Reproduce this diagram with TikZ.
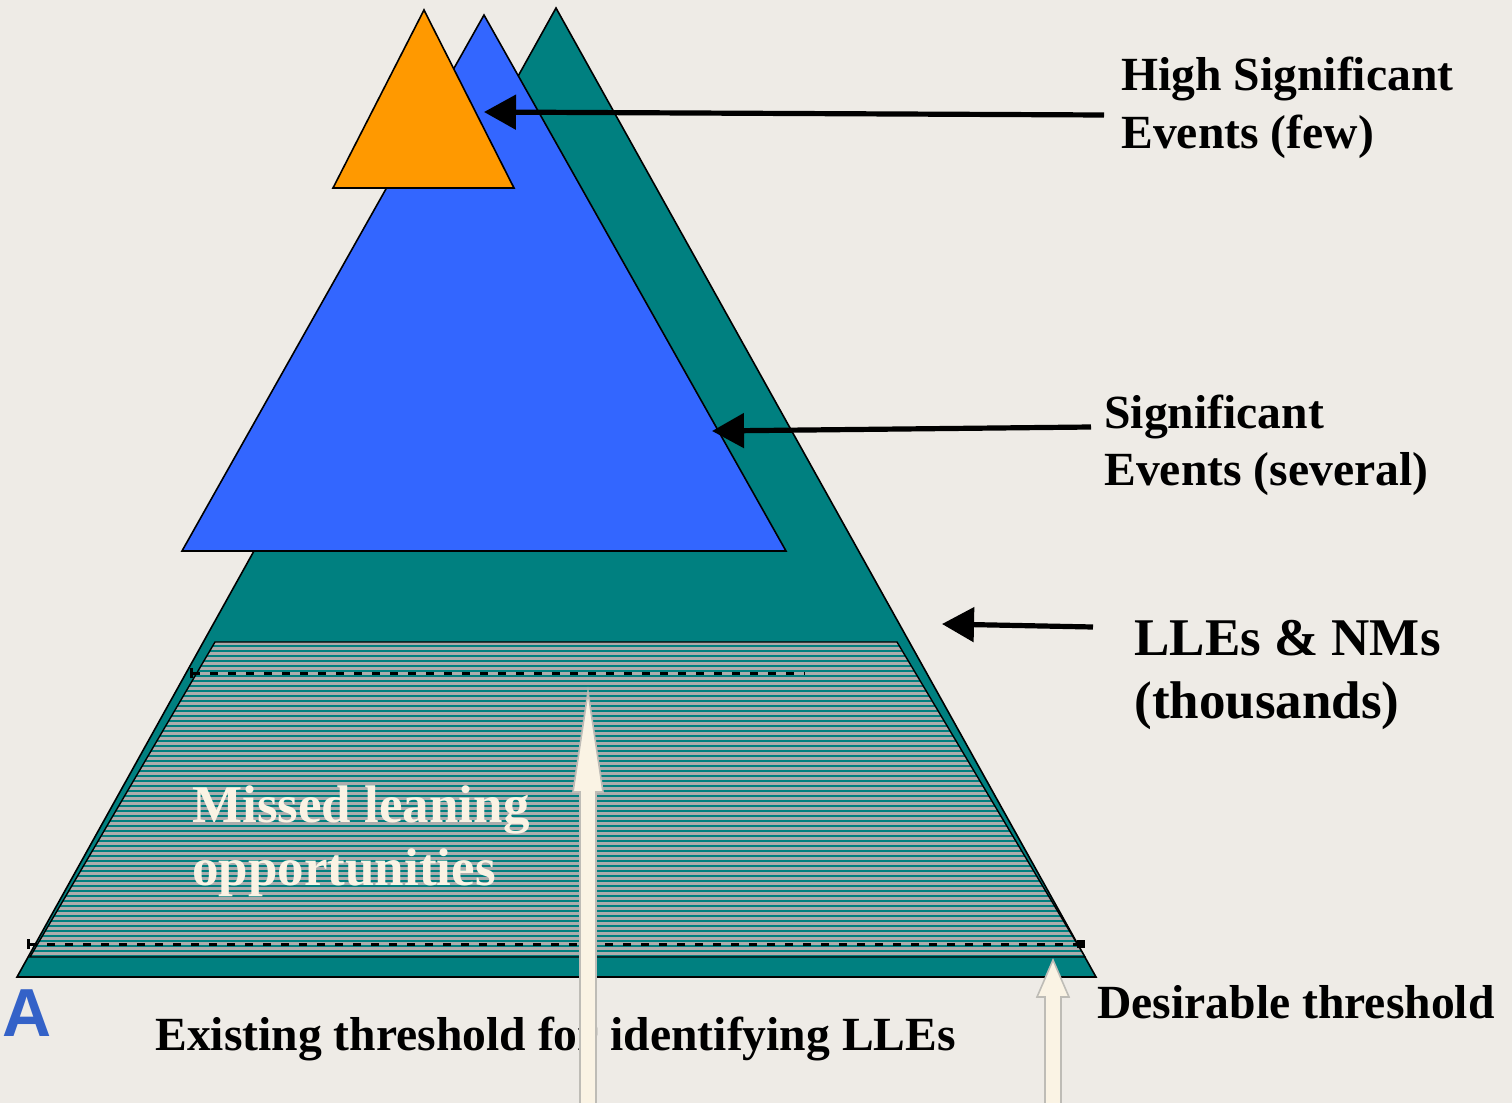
\documentclass[tikz,border=0pt]{standalone}
\usepackage{fontspec}
\setmainfont{Liberation Serif}
\newfontfamily\logofont{Liberation Sans}
\usetikzlibrary{arrows.meta}
\definecolor{paper}{RGB}{238,235,230}
\definecolor{pyrteal}{RGB}{0,128,128}
\definecolor{pyrblue}{RGB}{51,102,255}
\definecolor{pyrorange}{RGB}{255,153,0}
\definecolor{hatchgray}{RGB}{172,172,172}
\definecolor{cream}{RGB}{250,243,228}
\definecolor{creamedge}{RGB}{190,188,182}
\definecolor{logoblue}{RGB}{52,98,200}

\begin{document}
\begin{tikzpicture}[
  x=0.5pt, y=-0.5pt,
  tri/.style={draw=black, line width=0.8pt, line join=miter},
  pointer/.style={-{Triangle[length=16pt,width=17pt]}, line width=2.6pt},
  upblock/.style={fill=cream, draw=creamedge, line width=0.8pt},
  thresh/.style={dash pattern=on 4pt off 5pt, line width=1.5pt},
  evtext/.style={font=\fontsize{23.8}{28.5}\selectfont\bfseries, align=left, anchor=base west, inner sep=0pt},
  bigtext/.style={font=\fontsize{26.5}{31.5}\selectfont\bfseries, align=left, anchor=base west, inner sep=0pt}
]
  \useasboundingbox (0,0) rectangle (1512,1103);
  \fill[paper] (0,0) rectangle (1512,1103);

  % pyramid: teal base, blue middle, orange top
  \filldraw[tri, fill=pyrteal] (556,8) -- (1096,977) -- (17,977) -- cycle;
  \filldraw[tri, fill=pyrblue] (484,15) -- (786,551) -- (182,551) -- cycle;
  \filldraw[tri, fill=pyrorange] (424,10) -- (514,188) -- (333,188) -- cycle;

  % striped band of missed opportunities
  \begin{scope}
    \clip (215,642) -- (897,642) -- (1085,957) -- (30,957) -- cycle;
    \fill[hatchgray] (0,600) rectangle (1200,1000);
    \foreach \y in {646,651,...,957}
      \draw[pyrteal, line width=0.75pt] (0,\y) -- (1200,\y);
  \end{scope}
  \draw[line width=0.7pt] (215,642) -- (897,642) -- (1085,957) -- (30,957) -- cycle;

  % thresholds
  \draw[thresh, {Bar[width=5pt]}-] (190,673) -- (805,673);
  \draw[thresh, {Bar[width=5pt]}-{Square[length=4pt]}] (27,944) -- (1085,944);

  \node[bigtext, text=cream] (missed) at (192,885) {Missed leaning\\opportunities};

  % labels on the right
  \node[evtext] (highSig) at (1121,148) {High Significant\\Events (few)};
  \node[evtext] (sig) at (1104,485) {Significant\\Events (several)};
  \node[bigtext] (lles) at (1134,718) {LLEs \& NMs\\(thousands)};
  \node[evtext] (desirable) at (1097,1018) {Desirable threshold};
  \node[evtext] (existing) at (155,1050) {Existing threshold for identifying LLEs};
  \node[font=\logofont\fontsize{34}{34}\selectfont\bfseries, text=logoblue, inner sep=0pt] (logo) at (27,1013) {A};

  \coordinate (highFrom) at (1104,115);
  \coordinate (highTo) at (484,112);
  \coordinate (sigFrom) at (1091,427);
  \coordinate (sigTo) at (712,431);
  \coordinate (llesFrom) at (1093,627);
  \coordinate (llesTo) at (942,624);
  \draw[pointer] (highFrom) -- (highTo);
  \draw[pointer] (sigFrom) -- (sigTo);
  \draw[pointer] (llesFrom) -- (llesTo);

  % threshold arrows from below
  \filldraw[upblock] (580,1110) -- (580,792) -- (573,792) -- (588,692)
    -- (603,792) -- (596,792) -- (596,1110);
  \filldraw[upblock] (1045,1110) -- (1045,997) -- (1037,997) -- (1053,960)
    -- (1069,997) -- (1061,997) -- (1061,1110);
\end{tikzpicture}
\end{document}
